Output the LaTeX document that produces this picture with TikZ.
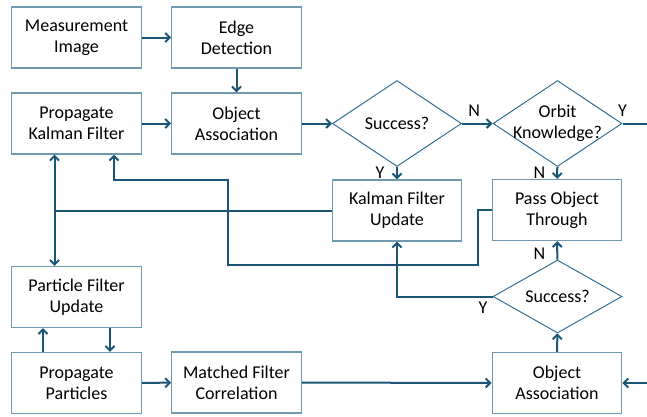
\documentclass[tikz,border=0pt]{standalone}
\usepackage{fontspec}
\setmainfont{Carlito}
\usetikzlibrary{shapes.geometric,arrows.meta}
\definecolor{boxline}{RGB}{112,152,175}
\definecolor{diamline}{RGB}{52,112,148}
\definecolor{flowline}{RGB}{28,86,118}

\begin{document}
\begin{tikzpicture}[x=1pt,y=-1pt,>={Straight Barb[length=4.5pt,width=9pt]}]
              \tikzstyle{box}=[draw=boxline,line width=1.3pt,shape=rectangle,minimum width=129.5pt,minimum height=61pt,inner sep=0pt,align=center,font=\fontsize{18}{21}\selectfont];
              \tikzstyle{decision}=[draw=diamline,line width=1pt,shape=diamond,minimum width=129pt,minimum height=86pt,inner sep=-14pt,align=center,font=\fontsize{18}{21}\selectfont];
              \tikzstyle{flow}=[->,draw=flowline,line width=2pt];
              \tikzstyle{yn}=[inner sep=0pt,font=\fontsize{18}{21}\selectfont];
                \useasboundingbox (0,0) rectangle (647,416);

                \path (76.5,37.5)   node[box] (meas) {Measurement\\Image};
                \path (236.5,37.5)  node[box] (edge) {Edge\\Detection};
                \path (76.5,123.5)  node[box] (pkf) {Propagate\\Kalman Filter};
                \path (236.5,123.5) node[box] (assoc) {Object\\Association};
                \path (397,123.5)   node[decision] (succ) {Success?};
                \path (557.5,123.5) node[decision] (orbit) {Orbit\\Knowledge?};
                \path (397,210.5)   node[box] (kfu) {Kalman Filter\\Update};
                \path (557,210)     node[box] (pass) {Pass Object\\Through};
                \path (76.5,297)    node[box] (pfu) {Particle Filter\\Update};
                \path (557.5,296.5) node[decision,minimum height=73pt] (succb) {Success?};
                \path (76.5,383)    node[box] (pp) {Propagate\\Particles};
                \path (236.5,382.5) node[box] (mfc) {Matched Filter\\Correlation};
                \path (557,383)     node[box] (assocb) {Object\\Association};
                \coordinate (exitr) at (647,123.5);
                \coordinate (entr) at (647,383);

                \path[flow] (meas) -- (edge);
                \path[flow] (edge) -- (assoc);
                \path[flow] (pkf) -- (assoc);
                \path[flow] (assoc) -- (succ);
                \path[flow] (succ) -- node[yn,above=6.5pt,pos=0.4] {N} (orbit);
                \path[draw=flowline,line width=2pt] (orbit.east) -- node[yn,above=6.5pt,pos=0] {Y} (exitr);
                \path[flow] (succ) -- node[yn,left=11.5pt] {Y} (kfu);
                \path[flow] (orbit) -- node[yn,left=11pt] {N} (pass);
                \path[flow] (kfu.west) -| ([xshift=-22pt]pkf.south);
                \path[flow] (kfu.west) -| ([xshift=-22pt]pfu.north);
                \path[flow] (pass.west) -| (478,265) -| (228,180) -| ([xshift=37.5pt]pkf.south);
                \path[flow] (succb.west) -| node[yn,below left=4pt,pos=0] {Y} (kfu.south);
                \path[flow] (succb) -- node[yn,left=11pt,pos=0.3] {N} (pass);
                \path[flow] (assocb) -- (succb);
                \path[flow] ([xshift=-33.5pt]pp.north) -- ([xshift=-33.5pt]pfu.south);
                \path[flow] ([xshift=33.5pt]pfu.south) -- ([xshift=33.5pt]pp.north);
                \path[flow] (pp) -- (mfc);
                \path[flow] (mfc) -- (assocb);
                \path[flow] (entr) -- (assocb);
            \end{tikzpicture}
\end{document}
